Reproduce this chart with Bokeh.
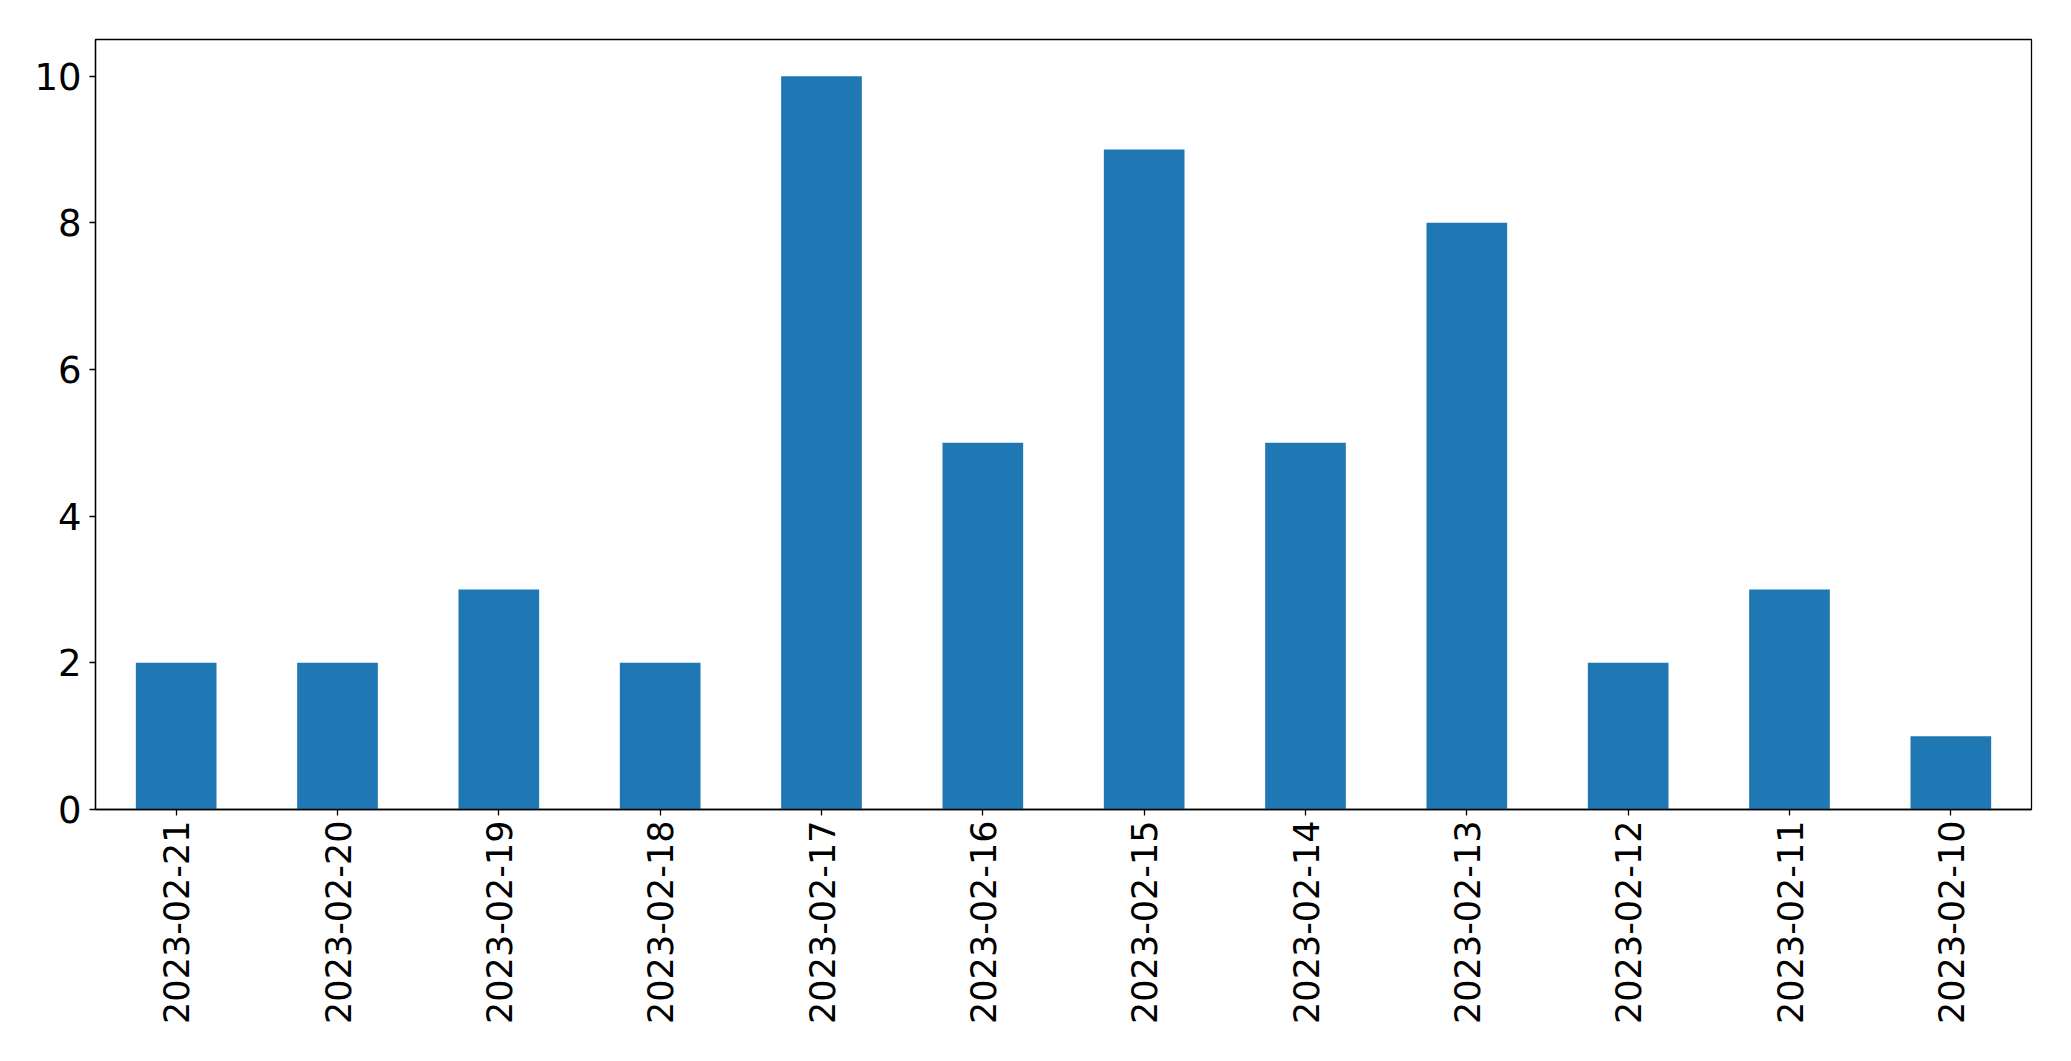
import math
from bokeh.plotting import figure
from bokeh.models import Range1d, FixedTicker, ColumnDataSource
from bokeh.embed import file_html
from bokeh.resources import INLINE

dates = ["2023-02-21", "2023-02-20", "2023-02-19", "2023-02-18", "2023-02-17", "2023-02-16",
         "2023-02-15", "2023-02-14", "2023-02-13", "2023-02-12", "2023-02-11", "2023-02-10"]
counts = [2, 2, 3, 2, 10, 5, 9, 5, 8, 2, 3, 1]
y_ticks = [0, 2, 4, 6, 8, 10]

source = ColumnDataSource(dict(x=dates, top=counts))

p = figure(x_range=dates, y_range=Range1d(0, 10.5), width=2063, height=1053,
           output_backend="svg", toolbar_location=None,
           min_border_left=95, min_border_right=32, min_border_top=39, min_border_bottom=244)

p.vbar(x="x", top="top", width=0.5, source=source, color="#1f77b4", line_color=None)

p.xgrid.visible = False
p.ygrid.visible = False
p.outline_line_color = "black"
p.outline_line_width = 1.3
p.outline_line_alpha = 1.0

p.yaxis.ticker = FixedTicker(ticks=y_ticks)
for ax in (p.xaxis, p.yaxis):
    ax.major_label_text_font = "DejaVu Sans"
    ax.major_label_text_color = "black"
    ax.major_tick_out = 6
    ax.major_tick_in = 0
    ax.minor_tick_out = 0
    ax.minor_tick_in = 0
    ax.axis_line_color = "black"
    ax.axis_line_width = 1.3
    ax.major_tick_line_color = "black"
    ax.major_tick_line_width = 1.3

p.xaxis.major_label_text_font_size = "35px"
p.yaxis.major_label_text_font_size = "37px"
p.yaxis.major_label_standoff = 8
p.xaxis.major_label_standoff = 5
p.xaxis.major_label_orientation = math.pi / 2

open("out.html", "w").write(file_html(p, INLINE))
